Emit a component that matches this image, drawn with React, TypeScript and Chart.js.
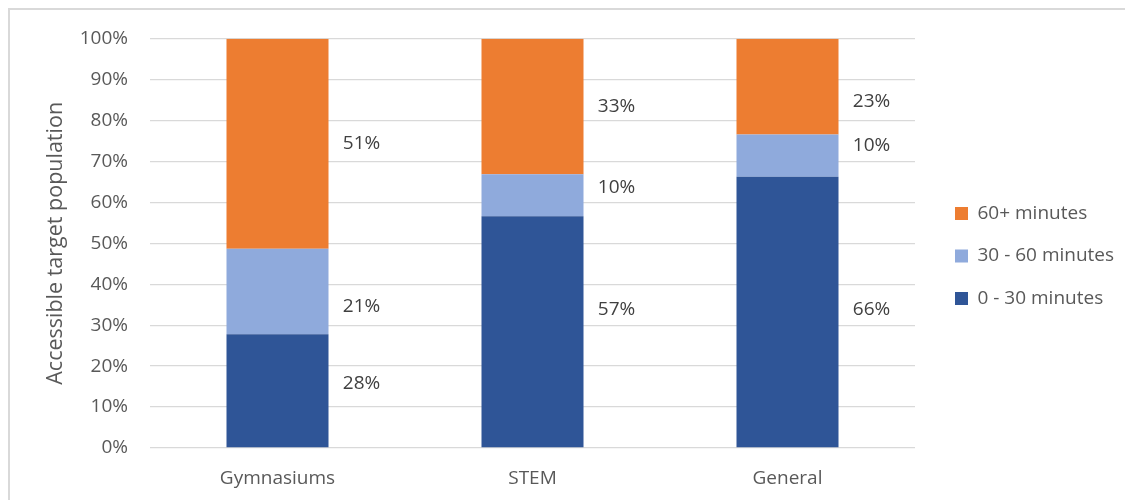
import React, { useEffect, useRef } from "react";
import { Chart, registerables } from "chart.js";

Chart.register(...registerables);

const categories = ["Gymnasiums", "STEM", "General"];
const seriesNames = ["0 - 30 minutes", "30 - 60 minutes", "60+ minutes"];
const shortTrip = [27.8, 56.6, 66.3];
const midTrip = [20.9, 10.3, 10.3];
const longTrip = [51.3, 33.1, 23.4];
// where each value label sits, in axis units (%)
const shortLabelAt = [15.7, 33.8, 33.8];
const midLabelAt = [34.5, 63.7, 74.0];
const longLabelAt = [74.4, 83.3, 84.6];
const yTicks = [0, 10, 20, 30, 40, 50, 60, 70, 80, 90, 100];

const FONT = "'Open Sans', 'Noto Sans', sans-serif";
const colors = ["#2F5597", "#8FAADC", "#ED7D31"];

const labelPlugin = {
  id: "valueLabels",
  afterInit(chart: any) {
    const lg = chart.legend;
    if (lg && !lg._wideFit) {
      const orig = lg.fit.bind(lg);
      lg.fit = () => {
        orig();
        lg.width = 201.5;
      };
      lg._wideFit = true;
    }
  },
  afterDatasetsDraw(chart: any) {
    const ctx = chart.ctx;
    const yScale = chart.scales.y;
    const labelAts = [shortLabelAt, midLabelAt, longLabelAt];
    ctx.save();
    ctx.font = `19px ${FONT}`;
    ctx.fillStyle = "#404040";
    ctx.textAlign = "center";
    ctx.textBaseline = "middle";
    chart.data.datasets.forEach((ds: any, di: number) => {
      const meta = chart.getDatasetMeta(di);
      meta.data.forEach((bar: any, i: number) => {
        const x = bar.x + bar.width / 2 + 33;
        const y = yScale.getPixelForValue(labelAts[di][i]);
        ctx.fillText(Math.round(ds.data[i]) + "%", x, y);
      });
    });
    ctx.restore();
  },
};

export default function App() {
  const ref = useRef<HTMLCanvasElement>(null);
  useEffect(() => {
    if (!ref.current) return;
    const chart = new Chart(ref.current, {
      type: "bar",
      data: {
        labels: categories,
        datasets: [shortTrip, midTrip, longTrip].map((d, i) => ({
          label: seriesNames[i],
          data: d,
          backgroundColor: colors[i],
          barPercentage: 0.4,
          categoryPercentage: 1,
        })),
      },
      options: {
        responsive: false,
        animation: false,
        layout: { padding: { left: 30, top: 10, right: 0, bottom: 8 } },
        plugins: {
          tooltip: { enabled: false },
          legend: {
            position: "right",
            reverse: true,
            labels: {
              boxWidth: 13,
              boxHeight: 13,
              padding: 23.5,
              color: "#595959",
              font: { family: FONT, size: 19 },
            },
          },
        },
        scales: {
          x: {
            stacked: true,
            grid: { display: false, drawTicks: false },
            border: { display: false },
            ticks: { color: "#595959", font: { family: FONT, size: 19 }, padding: 19 },
            afterFit: (s: any) => {
              s.height = 44;
            },
          },
          topGap: {
            type: "category",
            position: "top",
            display: true,
            grid: { display: false, drawTicks: false },
            border: { display: false },
            ticks: { display: false },
            afterFit: (s: any) => {
              s.height = 18.7;
            },
          },
          y: {
            stacked: true,
            min: 0,
            max: 100,
            afterBuildTicks: (s: any) => {
              s.ticks = yTicks.map((v) => ({ value: v }));
            },
            grid: {
              color: "#D9D9D9",
              lineWidth: 1.3,
              drawTicks: true,
              tickLength: 22,
              tickColor: "rgba(0,0,0,0)",
            },
            border: { display: false },
            ticks: {
              color: "#595959",
              font: { family: FONT, size: 19 },
              padding: 0,
              callback: (v: any) => v + "%",
            },
            title: {
              display: true,
              text: "Accessible target population",
              color: "#595959",
              font: { family: FONT, size: 21.5 },
              padding: { top: 3, bottom: 3 },
            },
            afterFit: (s: any) => {
              s.width = 110;
            },
          },
          gap: {
            type: "linear",
            position: "right",
            display: true,
            grid: { display: false, drawTicks: false },
            border: { display: false },
            ticks: { display: false },
            afterFit: (s: any) => {
              s.width = 16.5;
            },
          },
        },
      } as any,
      plugins: [labelPlugin],
    });
    return () => chart.destroy();
  }, []);
  return (
    <div
      style={{
        width: 1123,
        height: 490,
        borderLeft: "2px solid #D9D9D9",
        borderTop: "2px solid #D9D9D9",
        background: "#fff",
      }}
    >
      <canvas ref={ref} width={1123} height={490} style={{ display: "block" }} />
    </div>
  );
}
